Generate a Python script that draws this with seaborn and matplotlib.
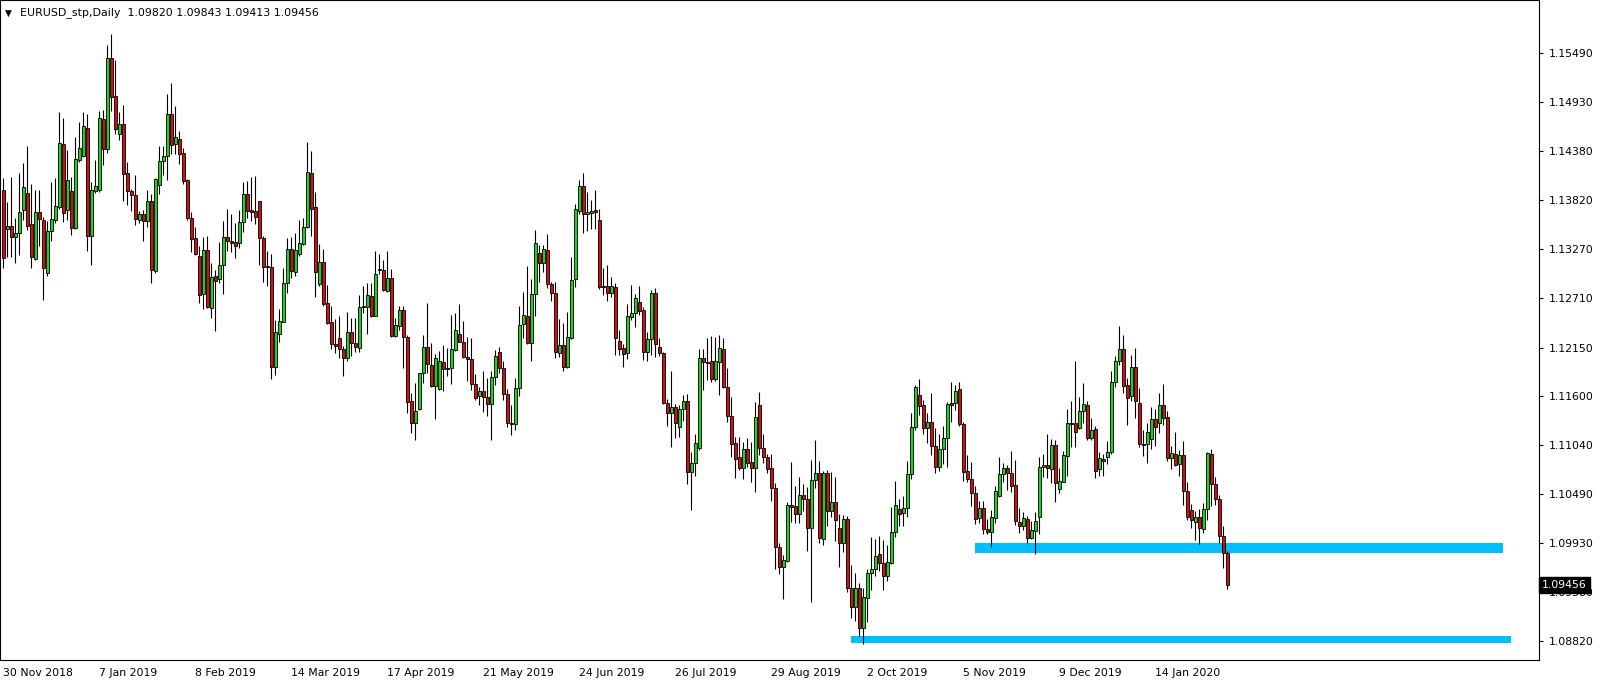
import numpy as np
import pandas as pd
import matplotlib
matplotlib.use("Agg")
import matplotlib.pyplot as plt
import matplotlib.transforms as mtransforms
import seaborn as sns

# ---------------------------------------------------------------- data
symbol = "EURUSD_stp,Daily"

opens = [
    1.1394, 1.1349, 1.1353, 1.1340, 1.1345, 1.1371, 1.1390, 1.1355, 1.1315, 1.1369,
    1.1360, 1.1300, 1.1347, 1.1360, 1.1374, 1.1446, 1.1371, 1.1393, 1.1351, 1.1428,
    1.1432, 1.1464, 1.1342, 1.1393, 1.1394, 1.1474, 1.1440, 1.1543, 1.1500, 1.1457,
    1.1469, 1.1413, 1.1393, 1.1388, 1.1360, 1.1366, 1.1359, 1.1381, 1.1302, 1.1399,
    1.1427, 1.1432, 1.1480, 1.1446, 1.1452, 1.1436, 1.1405, 1.1362, 1.1339, 1.1319,
    1.1276, 1.1326, 1.1260, 1.1296, 1.1293, 1.1309, 1.1340, 1.1336, 1.1335, 1.1334,
    1.1357, 1.1389, 1.1371, 1.1370, 1.1381, 1.1339, 1.1308, 1.1306, 1.1193, 1.1230,
    1.1244, 1.1288, 1.1327, 1.1301, 1.1321, 1.1332, 1.1352, 1.1413, 1.1374, 1.1287,
    1.1312, 1.1266, 1.1244, 1.1219, 1.1226, 1.1213, 1.1203, 1.1233, 1.1220, 1.1214,
    1.1261, 1.1261, 1.1273, 1.1251, 1.1304, 1.1303, 1.1279, 1.1294, 1.1228, 1.1239,
    1.1258, 1.1227, 1.1154, 1.1129, 1.1145, 1.1186, 1.1216, 1.1195, 1.1171, 1.1168,
    1.1199, 1.1192, 1.1192, 1.1212, 1.1230, 1.1221, 1.1204, 1.1202, 1.1174, 1.1160,
    1.1166, 1.1159, 1.1151, 1.1182, 1.1210, 1.1192, 1.1162, 1.1130, 1.1128, 1.1169,
    1.1242, 1.1251, 1.1220, 1.1276, 1.1322, 1.1311, 1.1326, 1.1287, 1.1277, 1.1209,
    1.1218, 1.1193, 1.1226, 1.1293, 1.1370, 1.1398, 1.1366, 1.1368, 1.1371, 1.1360,
    1.1285, 1.1285, 1.1277, 1.1284, 1.1222, 1.1214, 1.1209, 1.1250, 1.1254, 1.1267,
    1.1258, 1.1210, 1.1225, 1.1277, 1.1216, 1.1209, 1.1152, 1.1141, 1.1148, 1.1125,
    1.1145, 1.1154, 1.1074, 1.1084, 1.1101, 1.1203, 1.1199, 1.1200, 1.1179, 1.1199,
    1.1213, 1.1170, 1.1137, 1.1107, 1.1091, 1.1078, 1.1100, 1.1085, 1.1078, 1.1150,
    1.1101, 1.1091, 1.1078, 1.1056, 1.0989, 1.0966, 1.0973, 1.1036, 1.1035, 1.1026,
    1.1048, 1.1043, 1.1010, 1.1065, 1.1073, 1.0998, 1.1073, 1.1030, 1.1040, 1.1010,
    1.0993, 1.1021, 1.0942, 1.0921, 1.0942, 1.0897, 1.0931, 1.0959, 1.0964, 1.0981,
    1.0971, 1.0956, 1.0971, 1.1006, 1.1032, 1.1027, 1.1033, 1.1072, 1.1125, 1.1161,
    1.1150, 1.1124, 1.1131, 1.1103, 1.1080, 1.1100, 1.1112, 1.1152, 1.1152, 1.1168,
    1.1128, 1.1075, 1.1066, 1.1050, 1.1022, 1.1033, 1.1009, 1.1006, 1.1022, 1.1047,
    1.1072, 1.1078, 1.1073, 1.1059, 1.1017, 1.1013, 1.1021, 1.0999, 1.1007, 1.1023,
    1.1080, 1.1082, 1.1077, 1.1105, 1.1055, 1.1063, 1.1092, 1.1129, 1.1129, 1.1124,
    1.1143, 1.1150, 1.1112, 1.1123, 1.1077, 1.1089, 1.1091, 1.1097, 1.1176, 1.1200,
    1.1213, 1.1172, 1.1160, 1.1193, 1.1152, 1.1106, 1.1106, 1.1111, 1.1134, 1.1129,
    1.1150, 1.1136, 1.1090, 1.1094, 1.1083, 1.1093, 1.1052, 1.1031, 1.1017, 1.1023,
    1.1009, 1.1032, 1.1094, 1.1060, 1.1043, 1.1001, 1.09820,
]

highs = [
    1.1407, 1.1380, 1.1408, 1.1362, 1.1413, 1.1424, 1.1444, 1.1401, 1.1394, 1.1394,
    1.1363, 1.1359, 1.1403, 1.1407, 1.1482, 1.1475, 1.1439, 1.1408, 1.1454, 1.1471,
    1.1482, 1.1480, 1.1403, 1.1428, 1.1483, 1.1484, 1.1558, 1.1571, 1.1541, 1.1482,
    1.1490, 1.1425, 1.1395, 1.1411, 1.1370, 1.1371, 1.1394, 1.1389, 1.1407, 1.1444,
    1.1444, 1.1503, 1.1515, 1.1489, 1.1461, 1.1441, 1.1406, 1.1369, 1.1352, 1.1330,
    1.1340, 1.1342, 1.1311, 1.1303, 1.1335, 1.1359, 1.1372, 1.1366, 1.1356, 1.1371,
    1.1403, 1.1404, 1.1408, 1.1410, 1.1381, 1.1342, 1.1325, 1.1321, 1.1246, 1.1259,
    1.1305, 1.1339, 1.1340, 1.1345, 1.1360, 1.1362, 1.1448, 1.1438, 1.1391, 1.1332,
    1.1327, 1.1286, 1.1262, 1.1247, 1.1251, 1.1217, 1.1255, 1.1249, 1.1249, 1.1275,
    1.1285, 1.1288, 1.1288, 1.1325, 1.1321, 1.1314, 1.1325, 1.1304, 1.1249, 1.1262,
    1.1262, 1.1229, 1.1163, 1.1175, 1.1186, 1.1229, 1.1266, 1.1220, 1.1208, 1.1211,
    1.1218, 1.1214, 1.1252, 1.1254, 1.1264, 1.1245, 1.1227, 1.1226, 1.1185, 1.1170,
    1.1188, 1.1180, 1.1188, 1.1212, 1.1216, 1.1200, 1.1168, 1.1150, 1.1180, 1.1262,
    1.1278, 1.1308, 1.1293, 1.1348, 1.1331, 1.1331, 1.1344, 1.1289, 1.1289, 1.1247,
    1.1243, 1.1255, 1.1318, 1.1378, 1.1405, 1.1413, 1.1391, 1.1382, 1.1394, 1.1372,
    1.1305, 1.1309, 1.1295, 1.1288, 1.1235, 1.1219, 1.1264, 1.1286, 1.1276, 1.1285,
    1.1261, 1.1233, 1.1280, 1.1283, 1.1226, 1.1210, 1.1157, 1.1188, 1.1151, 1.1150,
    1.1161, 1.1162, 1.1097, 1.1117, 1.1213, 1.1213, 1.1226, 1.1228, 1.1227, 1.1229,
    1.1226, 1.1192, 1.1159, 1.1114, 1.1114, 1.1108, 1.1112, 1.1108, 1.1153, 1.1165,
    1.1117, 1.1094, 1.1094, 1.1061, 1.0993, 1.0980, 1.1040, 1.1085, 1.1058, 1.1068,
    1.1060, 1.1057, 1.1088, 1.1110, 1.1086, 1.1075, 1.1076, 1.1074, 1.1068, 1.1026,
    1.1025, 1.1024, 1.0968, 1.0959, 1.0948, 1.0942, 1.0964, 1.1000, 1.0998, 1.1001,
    1.0997, 1.0991, 1.1034, 1.1064, 1.1043, 1.1047, 1.1086, 1.1141, 1.1173, 1.1179,
    1.1156, 1.1141, 1.1163, 1.1124, 1.1117, 1.1126, 1.1153, 1.1176, 1.1173, 1.1176,
    1.1131, 1.1093, 1.1085, 1.1058, 1.1041, 1.1041, 1.1021, 1.1031, 1.1058, 1.1091,
    1.1084, 1.1082, 1.1098, 1.1088, 1.1033, 1.1029, 1.1024, 1.1018, 1.1029, 1.1091,
    1.1094, 1.1117, 1.1111, 1.1110, 1.1078, 1.1098, 1.1145, 1.1154, 1.1200, 1.1159,
    1.1175, 1.1154, 1.1135, 1.1126, 1.1097, 1.1094, 1.1109, 1.1188, 1.1205, 1.1239,
    1.1229, 1.1180, 1.1206, 1.1214, 1.1169, 1.1122, 1.1129, 1.1148, 1.1145, 1.1163,
    1.1174, 1.1143, 1.1103, 1.1119, 1.1099, 1.1109, 1.1063, 1.1038, 1.1030, 1.1032,
    1.1039, 1.1096, 1.1100, 1.1068, 1.1048, 1.1013, 1.09843,
]

lows = [
    1.1305, 1.1318, 1.1318, 1.1311, 1.1320, 1.1360, 1.1348, 1.1305, 1.1314, 1.1330,
    1.1269, 1.1296, 1.1336, 1.1356, 1.1372, 1.1357, 1.1360, 1.1343, 1.1349, 1.1425,
    1.1431, 1.1325, 1.1309, 1.1390, 1.1391, 1.1422, 1.1436, 1.1483, 1.1457, 1.1450,
    1.1381, 1.1377, 1.1370, 1.1354, 1.1356, 1.1336, 1.1352, 1.1288, 1.1300, 1.1389,
    1.1411, 1.1405, 1.1435, 1.1435, 1.1423, 1.1401, 1.1360, 1.1323, 1.1320, 1.1266,
    1.1259, 1.1260, 1.1249, 1.1234, 1.1288, 1.1276, 1.1325, 1.1323, 1.1317, 1.1328,
    1.1346, 1.1362, 1.1359, 1.1355, 1.1309, 1.1289, 1.1285, 1.1179, 1.1184, 1.1221,
    1.1244, 1.1277, 1.1294, 1.1296, 1.1319, 1.1331, 1.1351, 1.1342, 1.1272, 1.1285,
    1.1262, 1.1242, 1.1213, 1.1209, 1.1203, 1.1183, 1.1200, 1.1205, 1.1210, 1.1210,
    1.1254, 1.1230, 1.1250, 1.1251, 1.1298, 1.1279, 1.1278, 1.1227, 1.1227, 1.1235,
    1.1192, 1.1141, 1.1118, 1.1110, 1.1144, 1.1175, 1.1186, 1.1170, 1.1134, 1.1167,
    1.1166, 1.1183, 1.1174, 1.1211, 1.1221, 1.1203, 1.1177, 1.1167, 1.1156, 1.1150,
    1.1142, 1.1137, 1.1110, 1.1173, 1.1186, 1.1155, 1.1125, 1.1116, 1.1122, 1.1160,
    1.1226, 1.1219, 1.1200, 1.1251, 1.1289, 1.1301, 1.1283, 1.1268, 1.1203, 1.1204,
    1.1188, 1.1192, 1.1225, 1.1284, 1.1366, 1.1345, 1.1347, 1.1349, 1.1349, 1.1281,
    1.1275, 1.1268, 1.1272, 1.1207, 1.1207, 1.1193, 1.1202, 1.1246, 1.1238, 1.1252,
    1.1201, 1.1200, 1.1207, 1.1204, 1.1205, 1.1151, 1.1126, 1.1102, 1.1112, 1.1114,
    1.1132, 1.1060, 1.1031, 1.1069, 1.1099, 1.1167, 1.1178, 1.1176, 1.1177, 1.1161,
    1.1169, 1.1131, 1.1091, 1.1067, 1.1076, 1.1066, 1.1080, 1.1063, 1.1051, 1.1093,
    1.1084, 1.1073, 1.1041, 1.0964, 1.0958, 1.0930, 1.0972, 1.1017, 1.1016, 1.1016,
    1.1030, 1.0984, 1.0926, 1.1056, 1.0993, 1.0991, 1.1013, 1.1023, 1.0996, 1.0966,
    1.0983, 1.0938, 1.0908, 1.0905, 1.0888, 1.0879, 1.0904, 1.0940, 1.0956, 1.0962,
    1.0940, 1.0950, 1.0970, 1.1000, 1.1013, 1.1013, 1.1023, 1.1066, 1.1122, 1.1139,
    1.1117, 1.1107, 1.1093, 1.1073, 1.1075, 1.1083, 1.1080, 1.1131, 1.1144, 1.1126,
    1.1064, 1.1063, 1.1035, 1.1015, 1.1016, 1.1004, 1.1004, 1.0989, 1.1016, 1.1046,
    1.1063, 1.1054, 1.1051, 1.1014, 1.1005, 1.1008, 1.0993, 1.0998, 1.0981, 1.1004,
    1.1068, 1.1067, 1.1061, 1.1040, 1.1050, 1.1063, 1.1069, 1.1102, 1.1102, 1.1123,
    1.1129, 1.1110, 1.1110, 1.1067, 1.1069, 1.1069, 1.1083, 1.1094, 1.1170, 1.1195,
    1.1163, 1.1127, 1.1154, 1.1135, 1.1102, 1.1092, 1.1084, 1.1100, 1.1103, 1.1118,
    1.1127, 1.1086, 1.1077, 1.1081, 1.1069, 1.1036, 1.1019, 1.1010, 1.0997, 1.0992,
    1.1005, 1.1019, 1.1035, 1.1036, 1.0993, 1.0965, 1.09413,
]

closes = [
    1.1316, 1.1353, 1.1340, 1.1345, 1.1369, 1.1397, 1.1353, 1.1318, 1.1369, 1.1361,
    1.1305, 1.1347, 1.1361, 1.1376, 1.1447, 1.1368, 1.1405, 1.1351, 1.1429, 1.1441,
    1.1466, 1.1342, 1.1394, 1.1398, 1.1475, 1.1440, 1.1543, 1.1499, 1.1463, 1.1469,
    1.1412, 1.1393, 1.1388, 1.1361, 1.1366, 1.1359, 1.1381, 1.1303, 1.1406, 1.1427,
    1.1432, 1.1480, 1.1445, 1.1454, 1.1435, 1.1404, 1.1362, 1.1338, 1.1321, 1.1275,
    1.1326, 1.1261, 1.1295, 1.1291, 1.1309, 1.1340, 1.1336, 1.1334, 1.1330, 1.1357,
    1.1389, 1.1370, 1.1369, 1.1363, 1.1339, 1.1306, 1.1306, 1.1193, 1.1233, 1.1245,
    1.1288, 1.1327, 1.1302, 1.1326, 1.1334, 1.1352, 1.1414, 1.1372, 1.1301, 1.1312,
    1.1264, 1.1243, 1.1219, 1.1217, 1.1213, 1.1203, 1.1233, 1.1220, 1.1216, 1.1261,
    1.1262, 1.1275, 1.1251, 1.1298, 1.1303, 1.1280, 1.1294, 1.1228, 1.1241, 1.1258,
    1.1227, 1.1153, 1.1129, 1.1143, 1.1186, 1.1216, 1.1196, 1.1171, 1.1203, 1.1200,
    1.1191, 1.1191, 1.1213, 1.1235, 1.1221, 1.1204, 1.1202, 1.1174, 1.1158, 1.1166,
    1.1159, 1.1151, 1.1182, 1.1205, 1.1192, 1.1162, 1.1130, 1.1128, 1.1169, 1.1241,
    1.1252, 1.1220, 1.1276, 1.1334, 1.1311, 1.1327, 1.1287, 1.1277, 1.1210, 1.1218,
    1.1193, 1.1227, 1.1292, 1.1372, 1.1398, 1.1366, 1.1369, 1.1370, 1.1369, 1.1284,
    1.1284, 1.1277, 1.1285, 1.1226, 1.1213, 1.1208, 1.1251, 1.1254, 1.1271, 1.1257,
    1.1210, 1.1225, 1.1277, 1.1219, 1.1209, 1.1152, 1.1141, 1.1148, 1.1129, 1.1145,
    1.1154, 1.1074, 1.1084, 1.1107, 1.1203, 1.1199, 1.1198, 1.1179, 1.1200, 1.1214,
    1.1170, 1.1137, 1.1106, 1.1089, 1.1078, 1.1100, 1.1084, 1.1078, 1.1136, 1.1101,
    1.1091, 1.1077, 1.1056, 1.0989, 1.0966, 1.0974, 1.1036, 1.1034, 1.1026, 1.1048,
    1.1043, 1.1010, 1.1065, 1.1073, 1.0999, 1.1073, 1.1030, 1.1040, 1.1019, 1.0993,
    1.1021, 1.0942, 1.0921, 1.0942, 1.0897, 1.0932, 1.0959, 1.0964, 1.0979, 1.0971,
    1.0956, 1.0972, 1.1006, 1.1036, 1.1026, 1.1033, 1.1072, 1.1125, 1.1170, 1.1149,
    1.1124, 1.1131, 1.1103, 1.1080, 1.1100, 1.1112, 1.1151, 1.1150, 1.1166, 1.1128,
    1.1074, 1.1066, 1.1050, 1.1021, 1.1033, 1.1009, 1.1006, 1.1023, 1.1052, 1.1072,
    1.1078, 1.1073, 1.1058, 1.1018, 1.1013, 1.1022, 1.0999, 1.1008, 1.1018, 1.1080,
    1.1082, 1.1078, 1.1105, 1.1061, 1.1064, 1.1093, 1.1129, 1.1128, 1.1119, 1.1143,
    1.1151, 1.1112, 1.1122, 1.1075, 1.1090, 1.1086, 1.1097, 1.1176, 1.1200, 1.1213,
    1.1171, 1.1158, 1.1193, 1.1154, 1.1106, 1.1105, 1.1119, 1.1134, 1.1125, 1.1150,
    1.1135, 1.1090, 1.1095, 1.1082, 1.1093, 1.1052, 1.1023, 1.1019, 1.1023, 1.1010,
    1.1032, 1.1095, 1.1060, 1.1043, 1.1001, 1.0982, 1.09456,
]

date_labels = ["30 Nov 2018", "7 Jan 2019", "8 Feb 2019", "14 Mar 2019", "17 Apr 2019",
               "21 May 2019", "24 Jun 2019", "26 Jul 2019", "29 Aug 2019", "2 Oct 2019",
               "5 Nov 2019", "9 Dec 2019", "14 Jan 2020"]
bars_per_label = 24

price_ticks = [1.15490, 1.14930, 1.14380, 1.13820, 1.13270, 1.12710, 1.12150,
               1.11600, 1.11040, 1.10490, 1.09930, 1.09380, 1.08820]

# support zones drawn on the chart: first bar, last bar, bottom, top
zone_upper = (243, 375, 1.0982, 1.0993)
zone_lower = (212, 377, 1.0880, 1.0888)

BULL = "#22d022"
BEAR = "#d01010"
ZONE = "#00bfff"

# ---------------------------------------------------------------- frame
df = pd.DataFrame({"open": opens, "high": highs, "low": lows, "close": closes})
df["bar"] = np.arange(len(df))
df["up"] = df["close"] >= df["open"]

sns.set_theme(style="white")
plt.rcParams["font.family"] = ["DejaVu Sans"]

W, H = 1604, 683
fig = plt.figure(figsize=(W / 100, H / 100), dpi=100)
ax = fig.add_axes([0, 23 / H, 1539 / W, 660 / H])

ax.set_xlim(-0.8, 383.95)
ax.set_ylim(1.08607, 1.16091)

for x0, x1, y0, y1 in (zone_upper, zone_lower):
    ax.fill_between([x0, x1], y0, y1, color=ZONE, linewidth=0, zorder=1)

ax.vlines(df["bar"], df["low"], df["high"], color="black", linewidth=0.8, zorder=2)
body_lo = df[["open", "close"]].min(axis=1)
body_h = (df["close"] - df["open"]).abs()
ax.bar(df["bar"], body_h, bottom=body_lo, width=0.72,
       color=np.where(df["up"], BULL, BEAR), edgecolor="black",
       linewidth=0.6, zorder=3)

# ---------------------------------------------------------------- axes
for s in ax.spines.values():
    s.set_color("black")
    s.set_linewidth(0.8)

ax.yaxis.tick_right()
ax.set_yticks(price_ticks)
ax.set_yticklabels([f"{p:.5f}" for p in price_ticks])
ax.tick_params(axis="y", direction="out", length=3, width=0.8, pad=4,
               labelsize=7.8, colors="black")

ax.set_xticks([i * bars_per_label for i in range(len(date_labels))])
ax.set_xticklabels(date_labels, ha="left")
ax.tick_params(axis="x", direction="out", length=4, width=0.8, pad=2,
               labelsize=7.8, colors="black")
ax.grid(False)

# current price box
trans = mtransforms.blended_transform_factory(ax.transAxes, ax.transData)
ax.text(1.002, closes[-1], f"{closes[-1]:.5f}", transform=trans, ha="left",
        va="center", color="white", fontsize=7.8, clip_on=False, zorder=5,
        bbox=dict(boxstyle="square,pad=0.3", facecolor="black", edgecolor="black"))

# header
fig.text(5 / W, 1 - 13 / H, "\u25bc", fontsize=6.5, color="black", va="center")
fig.text(20 / W, 1 - 13 / H,
         f"{symbol}  {opens[-1]:.5f} {highs[-1]:.5f} {lows[-1]:.5f} {closes[-1]:.5f}",
         fontsize=7.9, color="black", va="center")

fig.savefig("out.png", dpi=100)
